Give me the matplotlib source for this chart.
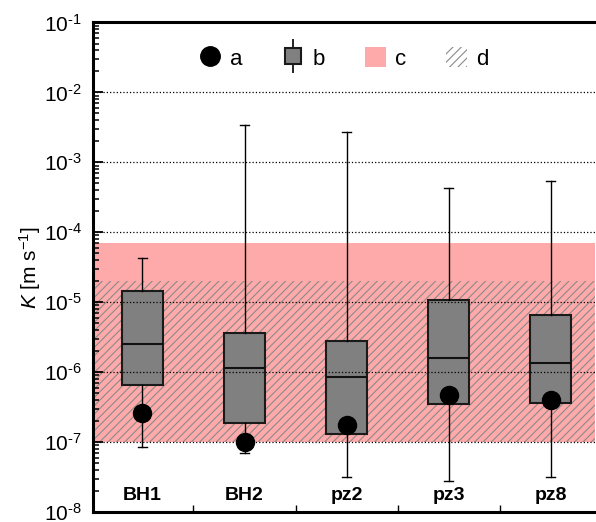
import math
import matplotlib
matplotlib.use("Agg")
import matplotlib.pyplot as plt
from matplotlib.lines import Line2D
from matplotlib.patches import Patch
from matplotlib.legend_handler import HandlerErrorbar
import matplotlib.ticker as mticker
import matplotlib.transforms as mtransforms

plt.rcParams['font.family'] = ['Liberation Sans', 'DejaVu Sans']
plt.rcParams['mathtext.fontset'] = 'custom'
plt.rcParams['mathtext.rm'] = 'Liberation Sans'
plt.rcParams['mathtext.it'] = 'Liberation Sans:italic'
plt.rcParams['hatch.linewidth'] = 0.8

# data
wells = ['BH1', 'BH2', 'pz2', 'pz3', 'pz8']
whisk_lo = [8.5e-8, 6.9e-8, 3.2e-8, 2.8e-8, 3.2e-8]
q1 = [6.5e-7, 1.9e-7, 1.3e-7, 3.5e-7, 3.6e-7]
med = [2.5e-6, 1.15e-6, 8.6e-7, 1.6e-6, 1.35e-6]
q3 = [1.45e-5, 3.6e-6, 2.8e-6, 1.07e-5, 6.6e-6]
whisk_hi = [4.3e-5, 3.4e-3, 2.7e-3, 4.3e-4, 5.5e-4]
point_a = [2.6e-7, 1.0e-7, 1.75e-7, 4.7e-7, 4.0e-7]
range_c = (1e-7, 7e-5)
range_d = (1e-7, 2e-5)

fig = plt.figure(figsize=(5.96, 5.22), dpi=100)
ax = fig.add_axes([0.156, 0.019, 0.842, 0.938])

pos = list(range(1, len(wells) + 1))

# shaded ranges
ax.axhspan(range_c[0], range_c[1], facecolor='#ffaaaa', edgecolor='none', zorder=0)
ax.axhspan(range_d[0], range_d[1], facecolor='none', edgecolor='#8a8a8a',
           hatch='////', linewidth=0, zorder=0.5)

stats = []
for i in range(len(wells)):
    stats.append({'whislo': whisk_lo[i], 'q1': q1[i], 'med': med[i],
                  'q3': q3[i], 'whishi': whisk_hi[i], 'fliers': []})

ax.bxp(stats, positions=pos, widths=0.4, capwidths=0.09, patch_artist=True,
       showfliers=False, manage_ticks=False,
       boxprops=dict(facecolor='#808080', edgecolor='#1a1a1a', linewidth=1.5),
       medianprops=dict(color='#111111', linewidth=1.5),
       whiskerprops=dict(color='black', linewidth=1.0),
       capprops=dict(color='black', linewidth=1.0))

ax.plot(pos, point_a, 'o', color='black', ms=13, zorder=4)

ax.set_yscale('log')
ax.set_ylim(1e-8, 1e-1)
ax.set_xlim(0.516, 5.43)


def pow_label(v, p):
    # short hyphen in the exponent, like the original
    n = int(round(math.log10(v)))
    if n < 0:
        return r'$\mathregular{10^{\text{-}%d}}$' % (-n)
    return r'$\mathregular{10^{%d}}$' % n


ax.yaxis.set_major_locator(mticker.LogLocator(base=10, numticks=12))
ax.yaxis.set_major_formatter(mticker.FuncFormatter(pow_label))
ax.yaxis.set_minor_locator(mticker.LogLocator(base=10, subs=(2, 3, 4, 5, 6, 7, 8, 9), numticks=12))
ax.yaxis.set_minor_formatter(mticker.NullFormatter())
ax.yaxis.set_tick_params(which='major', direction='in', length=7, width=1.3,
                         labelsize=15, pad=8, left=True)
ax.yaxis.set_tick_params(which='minor', direction='in', length=4.5, width=1.1, left=True)

ax.set_xticks([])
ax.set_xticks([1.5, 2.5, 3.5, 4.5], minor=True)
ax.tick_params(axis='x', which='minor', direction='in', length=5, width=1.0)

ax.set_axisbelow(False)
ax.yaxis.grid(True, which='major', linestyle=':', color='black', linewidth=0.9)

for s in ['left', 'top', 'bottom']:
    ax.spines[s].set_linewidth(2.2)
ax.spines['right'].set_visible(False)

trans = mtransforms.blended_transform_factory(ax.transData, ax.transAxes)
for p, w in zip(pos, wells):
    ax.text(p, 0.033, w, transform=trans, ha='center', va='center',
            fontsize=14, fontweight='bold')

ax.set_ylabel('$K$ [m s$^{-1}$]', fontsize=15)
ax.yaxis.set_label_coords(-0.1, 0.5)

# legend
h_a = Line2D([], [], marker='o', color='black', linestyle='none', ms=14)
h_b = ax.errorbar([], [], yerr=[], fmt='s', mfc='#808080', mec='#1a1a1a', mew=1.5,
                  ms=12, ecolor='black', elinewidth=1.2, capsize=2.5, capthick=1.5)
h_c = Patch(facecolor='#ffaaaa', edgecolor='none')
h_d = Patch(facecolor='none', edgecolor='#8a8a8a', hatch='////', linewidth=0)
ax.legend([h_a, h_b, h_c, h_d], ['a', 'b', 'c', 'd'], loc='upper center',
          bbox_to_anchor=(0.5, 0.99), ncol=4, frameon=False, fontsize=16,
          handlelength=0.95, handleheight=0.95, columnspacing=1.8, handletextpad=0.4,
          handler_map={h_b: HandlerErrorbar(yerr_size=0.75)})

fig.savefig('out.png', dpi=100)
